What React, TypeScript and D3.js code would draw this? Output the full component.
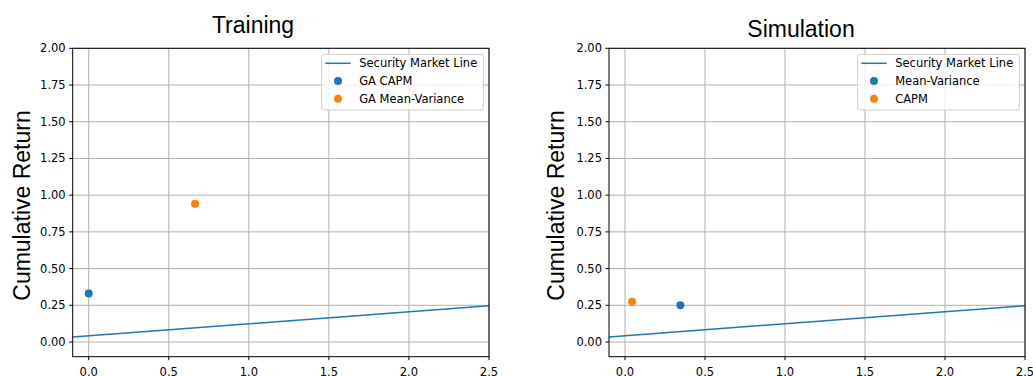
import React from "react";
import * as d3 from "d3";

const xTicks = [0, 0.5, 1.0, 1.5, 2.0, 2.5];
const yTicks = [0, 0.25, 0.5, 0.75, 1.0, 1.25, 1.5, 1.75, 2.0];
const smlX = [-0.1, 2.5];
const smlY = [0.034, 0.247];

const trainingSeries = ["GA CAPM", "GA Mean-Variance"];
const trainingX = [0.0, 0.664];
const trainingY = [0.331, 0.942];

const simulationSeries = ["Mean-Variance", "CAPM"];
const simulationX = [0.346, 0.044];
const simulationY = [0.251, 0.274];

const colors = ["#1f77b4", "#ff7f0e"];
const TICK_FONT = "'DejaVu Sans', sans-serif";
const TITLE_FONT = "'Liberation Sans', Arial, sans-serif";

type PanelProps = {
  left: number;
  right: number;
  top: number;
  bottom: number;
  title: string;
  titleX: number;
  titleY: number;
  ylabelX: number;
  series: string[];
  xs: number[];
  ys: number[];
  legendLeft: number;
};

function Panel(p: PanelProps) {
  const x = d3.scaleLinear().domain([-0.1, 2.5]).range([p.left, p.right]);
  const y = d3.scaleLinear().domain([-0.1, 2.0]).range([p.bottom, p.top]);
  const line = d3
    .line<number>()
    .x((d) => x(d))
    .y((_, i) => y(smlY[i]));
  const legW = 161.6;
  const legTop = 54.3;
  const rowY = [63.3, 81, 98.7];
  return (
    <g>
      <text
        x={p.titleX}
        y={p.titleY}
        textAnchor="middle"
        fontFamily={TITLE_FONT}
        fontSize={23}
        fill="#000"
      >
        {p.title}
      </text>
      <text
        transform={`translate(${p.ylabelX},${(p.top + p.bottom) / 2 + 3}) rotate(-90)`}
        textAnchor="middle"
        dominantBaseline="central"
        fontFamily={TITLE_FONT}
        fontSize={23}
        fill="#000"
      >
        Cumulative Return
      </text>
      {xTicks.map((t) => (
        <line key={"gx" + t} x1={x(t)} x2={x(t)} y1={p.top} y2={p.bottom} stroke="#b0b0b0" strokeWidth={1} />
      ))}
      {yTicks.map((t) => (
        <line key={"gy" + t} x1={p.left} x2={p.right} y1={y(t)} y2={y(t)} stroke="#b0b0b0" strokeWidth={1} />
      ))}
      {p.xs.map((v, i) => (
        <circle key={"pt" + i} cx={x(v)} cy={y(p.ys[i])} r={4} fill={colors[i]} />
      ))}
      <path d={line(smlX) || ""} fill="none" stroke={colors[0]} strokeWidth={1.5} />
      <rect
        x={p.left}
        y={p.top}
        width={p.right - p.left}
        height={p.bottom - p.top}
        fill="none"
        stroke="#000"
        strokeWidth={1}
      />
      {xTicks.map((t) => (
        <g key={"tx" + t}>
          <line x1={x(t)} x2={x(t)} y1={p.bottom} y2={p.bottom + 3.5} stroke="#000" />
          <text x={x(t)} y={p.bottom + 18.8} textAnchor="middle" fontFamily={TICK_FONT} fontSize={11.5} fill="#000">
            {t.toFixed(1)}
          </text>
        </g>
      ))}
      {yTicks.map((t) => (
        <g key={"ty" + t}>
          <line x1={p.left - 3.5} x2={p.left} y1={y(t)} y2={y(t)} stroke="#000" />
          <text
            x={p.left - 7}
            y={y(t)}
            textAnchor="end"
            dominantBaseline="central"
            fontFamily={TICK_FONT}
            fontSize={11.5}
            fill="#000"
          >
            {t.toFixed(2)}
          </text>
        </g>
      ))}
      <g>
        <rect
          x={p.legendLeft}
          y={legTop}
          width={legW}
          height={55.7}
          rx={2}
          fill="#fff"
          fillOpacity={0.8}
          stroke="#cccccc"
          strokeWidth={1}
        />
        <line
          x1={p.legendLeft + 3.5}
          x2={p.legendLeft + 29}
          y1={rowY[0]}
          y2={rowY[0]}
          stroke={colors[0]}
          strokeWidth={1.5}
        />
        <text
          x={p.legendLeft + 37.5}
          y={rowY[0]}
          dominantBaseline="central"
          fontFamily={TICK_FONT}
          fontSize={11.5}
          fill="#000"
        >
          Security Market Line
        </text>
        {p.series.map((s, i) => (
          <g key={"lg" + i}>
            <circle cx={p.legendLeft + 16.3} cy={rowY[i + 1]} r={4} fill={colors[i]} />
            <text
              x={p.legendLeft + 37.5}
              y={rowY[i + 1]}
              dominantBaseline="central"
              fontFamily={TICK_FONT}
              fontSize={11.5}
              fill="#000"
            >
              {s}
            </text>
          </g>
        ))}
      </g>
    </g>
  );
}

export default function App() {
  return (
    <svg
      width={1033}
      height={376}
      style={{ position: "absolute", left: 0, top: 0, background: "#fff" }}
    >
      <rect x={0} y={0} width={1033} height={376} fill="#fff" />
      <Panel
        left={72.7}
        right={489}
        top={48.3}
        bottom={356.7}
        title="Training"
        titleX={253}
        titleY={33.3}
        ylabelX={22}
        series={trainingSeries}
        xs={trainingX}
        ys={trainingY}
        legendLeft={321.7}
      />
      <Panel
        left={609}
        right={1025}
        top={48.3}
        bottom={356.7}
        title="Simulation"
        titleX={801}
        titleY={36.7}
        ylabelX={556}
        series={simulationSeries}
        xs={simulationX}
        ys={simulationY}
        legendLeft={857.7}
      />
    </svg>
  );
}
